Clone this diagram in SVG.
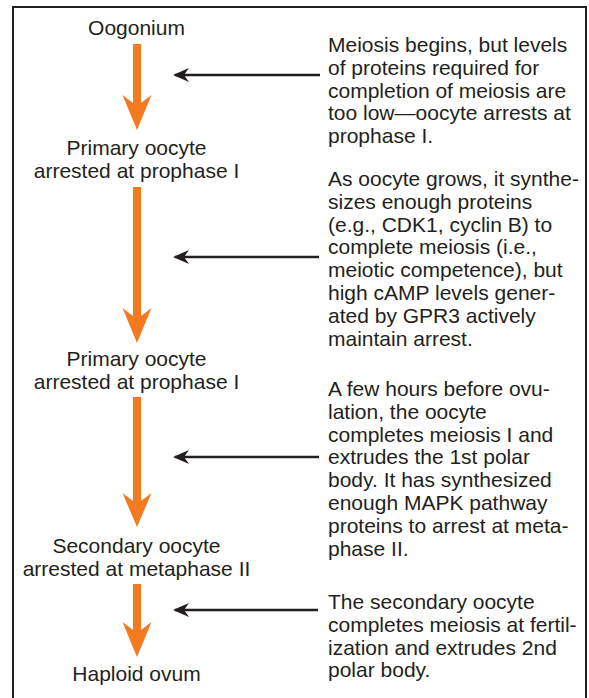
<svg xmlns="http://www.w3.org/2000/svg" width="589" height="698" viewBox="0 0 589 698">
  <style>
    .stage { font-family: "Liberation Sans", Arial, sans-serif; font-size: 21px; fill: #231f20; text-anchor: middle; }
    .note { font-family: "Liberation Sans", Arial, sans-serif; font-size: 21px; fill: #231f20; }
    .signal { stroke: #231f20; stroke-width: 2.5; fill: none; marker-end: url(#barb); }
    .step { fill: #f47a20; }
  </style>
  <defs>
    <marker id="barb" viewBox="0 0 16 14" refX="14" refY="7" markerWidth="16" markerHeight="14" markerUnits="userSpaceOnUse" orient="auto">
      <path d="M0,0 L16,7 L0,14 L5,7 Z" fill="#231f20"/>
    </marker>
  </defs>

  <rect x="13" y="7" width="573" height="700" fill="#ffffff" stroke="#231f20" stroke-width="2"/>

  <g id="connectors">
    <!-- orange progression arrows -->
    <path class="step" d="M133,44 H141 V103 L151.5,95 L137,130 L122.5,95 L133,103 Z"/>
    <path class="step" d="M133,187 H141 V316 L151.5,308 L137,343 L122.5,308 L133,316 Z"/>
    <path class="step" d="M133,397 H141 V501 L151.5,493 L137,527 L122.5,493 L133,501 Z"/>
    <path class="step" d="M133,584 H141 V630 L151.5,622 L137,657 L122.5,622 L133,630 Z"/>
    <!-- black regulatory arrows -->
    <line class="signal" x1="320" y1="75" x2="175" y2="75"/>
    <line class="signal" x1="319" y1="257" x2="175" y2="257"/>
    <line class="signal" x1="319" y1="457" x2="175" y2="457"/>
    <line class="signal" x1="318" y1="610" x2="175" y2="610"/>
  </g>

  <g id="oogonium">
    <text class="stage" x="136.5" y="35">Oogonium</text>
  </g>
  <g id="primary-oocyte-1">
    <text class="stage" x="136.5" y="155">Primary oocyte</text>
    <text class="stage" x="136.5" y="178">arrested at prophase I</text>
  </g>
  <g id="primary-oocyte-2">
    <text class="stage" x="136.5" y="366">Primary oocyte</text>
    <text class="stage" x="136.5" y="389">arrested at prophase I</text>
  </g>
  <g id="secondary-oocyte">
    <text class="stage" x="136.5" y="553">Secondary oocyte</text>
    <text class="stage" x="136.5" y="576">arrested at metaphase II</text>
  </g>
  <g id="haploid-ovum">
    <text class="stage" x="136.5" y="681">Haploid ovum</text>
  </g>

  <g id="note-1">
    <text class="note" x="328" y="52">Meiosis begins, but levels</text>
    <text class="note" x="328" y="74.8">of proteins required for</text>
    <text class="note" x="328" y="97.6">completion of meiosis are</text>
    <text class="note" x="328" y="120.4">too low—oocyte arrests at</text>
    <text class="note" x="328" y="143.2">prophase I.</text>
  </g>
  <g id="note-2">
    <text class="note" x="328" y="186">As oocyte grows, it synthe-</text>
    <text class="note" x="328" y="208.8">sizes enough proteins</text>
    <text class="note" x="328" y="231.6">(e.g., CDK1, cyclin B) to</text>
    <text class="note" x="328" y="254.4">complete meiosis (i.e.,</text>
    <text class="note" x="328" y="277.2">meiotic competence), but</text>
    <text class="note" x="328" y="300">high cAMP levels gener-</text>
    <text class="note" x="328" y="322.8">ated by GPR3 actively</text>
    <text class="note" x="328" y="345.6">maintain arrest.</text>
  </g>
  <g id="note-3">
    <text class="note" x="328" y="396">A few hours before ovu-</text>
    <text class="note" x="328" y="418.8">lation, the oocyte</text>
    <text class="note" x="328" y="441.6">completes meiosis I and</text>
    <text class="note" x="328" y="464.4">extrudes the 1st polar</text>
    <text class="note" x="328" y="487.2">body. It has synthesized</text>
    <text class="note" x="328" y="510">enough MAPK pathway</text>
    <text class="note" x="328" y="532.8">proteins to arrest at meta-</text>
    <text class="note" x="328" y="555.6">phase II.</text>
  </g>
  <g id="note-4">
    <text class="note" x="328" y="609">The secondary oocyte</text>
    <text class="note" x="328" y="631.8">completes meiosis at fertil-</text>
    <text class="note" x="328" y="654.6">ization and extrudes 2nd</text>
    <text class="note" x="328" y="677.4">polar body.</text>
  </g>
</svg>
